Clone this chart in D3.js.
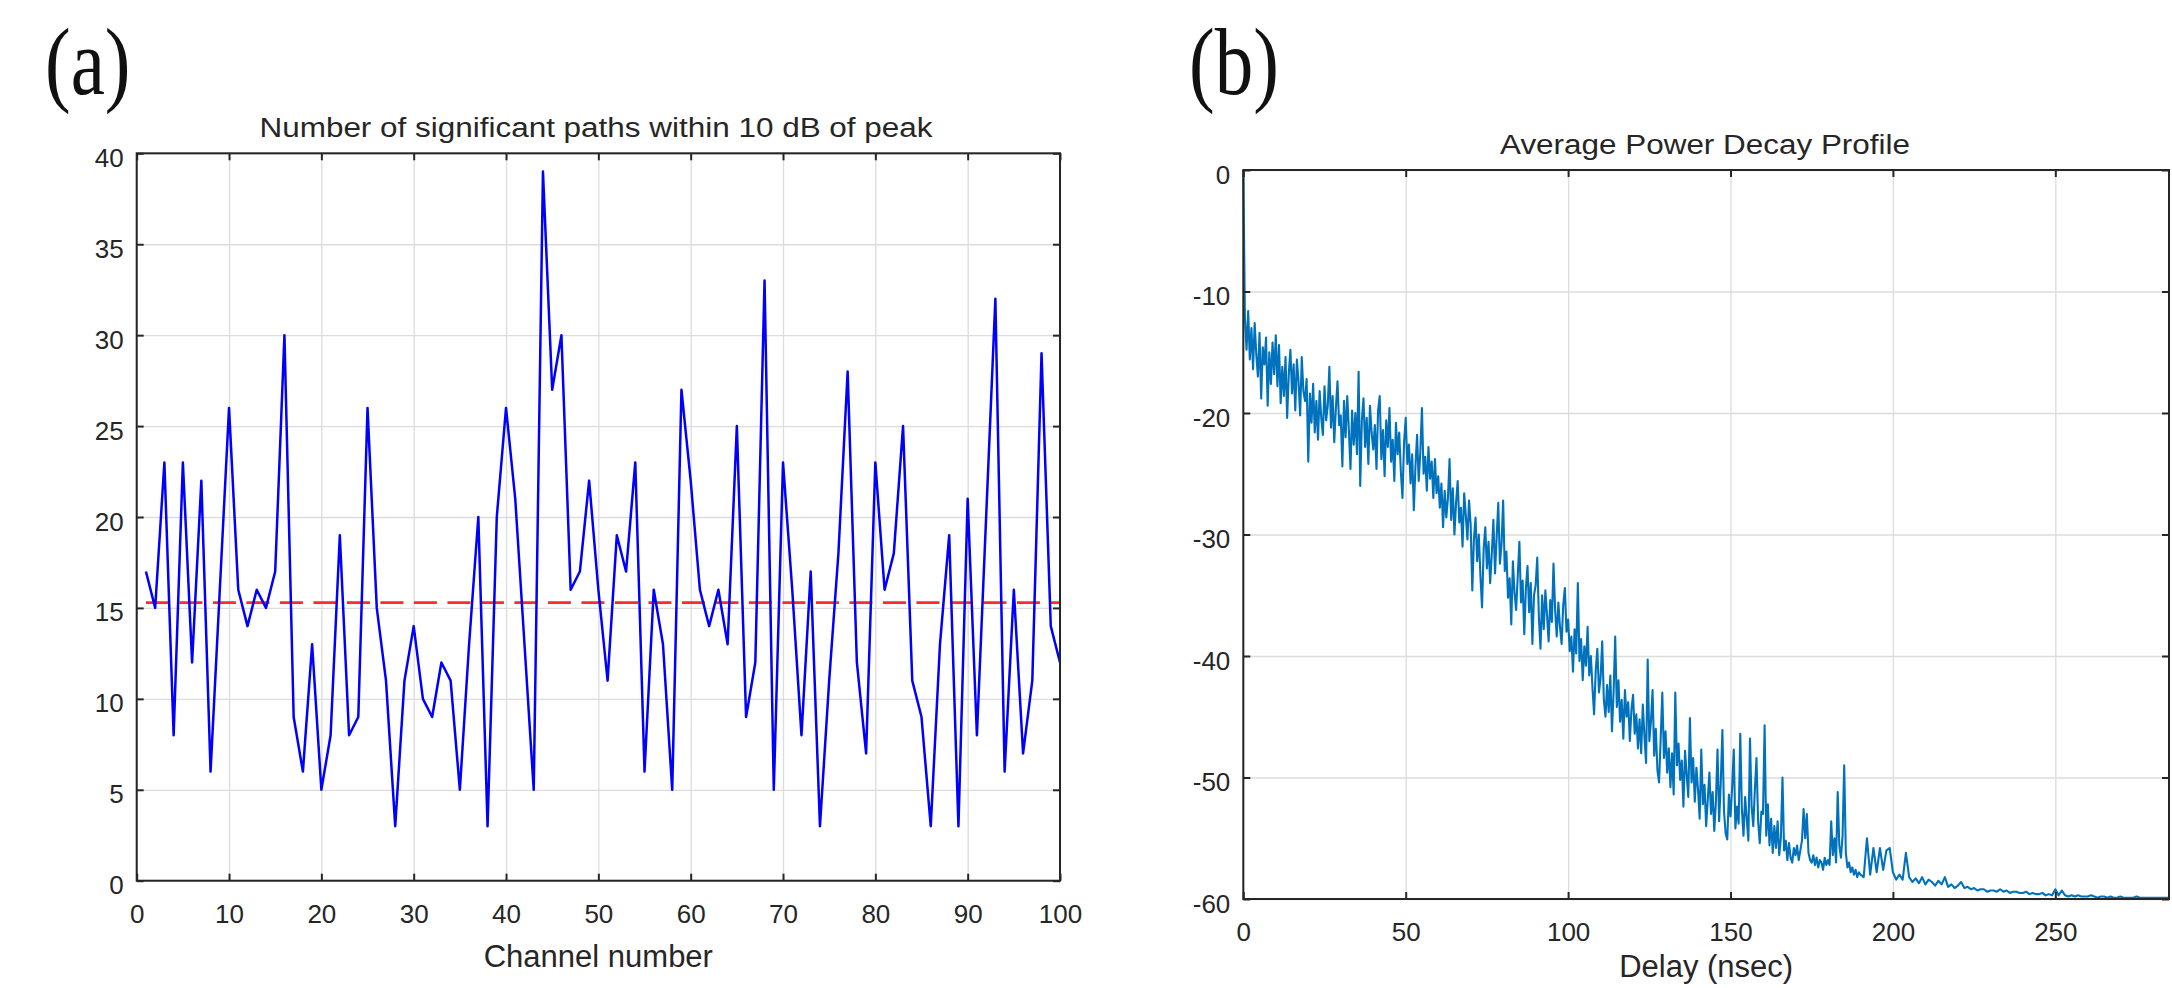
<html>
<head>
<style>
  body { margin: 0; background: #fff; }
  svg text { font-family: "Liberation Sans", Arial, sans-serif; fill: #262626; }
  .panel-label { font-family: "Liberation Serif", "Times New Roman", serif; fill: #111; }
</style>
<script src="https://d3js.org/d3.v7.min.js"></script>
</head>
<body>
<svg width="2172" height="988"></svg>
<script>
// (a) number of significant paths per channel
var channels = d3.range(1, 101);
var paths = [17, 15, 23, 8, 23, 12, 22, 6, 16, 26,
             16, 14, 16, 15, 17, 30, 9, 6, 13, 5,
             8, 19, 8, 9, 26, 15, 11, 3, 11, 14,
             10, 9, 12, 11, 5, 13, 20, 3, 20, 26,
             21, 13, 5, 39, 27, 30, 16, 17, 22, 16,
             11, 19, 17, 23, 6, 16, 13, 5, 27, 22,
             16, 14, 16, 13, 25, 9, 12, 33, 5, 23,
             16, 8, 17, 3, 11, 18, 28, 12, 7, 23,
             16, 18, 25, 11, 9, 3, 13, 19, 3, 21,
             8, 20, 32, 6, 16, 7, 11, 29, 14, 12];
var meanPaths = 15.29;
var pathTicksX = [0, 10, 20, 30, 40, 50, 60, 70, 80, 90, 100];
var pathTicksY = [0, 5, 10, 15, 20, 25, 30, 35, 40];

// (b) average power decay profile, dB
// 0 .. 190 ns every 0.5 ns
var powerFine = [
  0, -12.2, -14.8, -11.6, -15.6, -13.0, -16.4, -12.6, -15.2, -17.0, -13.4, -18.8, -14.6, -16.0, -13.8, -19.4, -15.0, -17.6, -14.2, -16.8,
  -13.6, -17.8, -14.4, -19.2, -16.2, -18.6, -15.4, -20.4, -16.8, -14.8, -18.4, -16.0, -19.8, -15.6, -17.4, -20.2, -15.4, -18.2, -19.0, -17.2,
  -24.0, -18.4, -20.8, -17.6, -21.6, -19.0, -22.2, -18.2, -20.4, -21.8, -17.8, -20.6, -19.4, -16.2, -21.2, -18.6, -22.4, -19.6, -17.4, -21.0,
  -20.2, -24.4, -19.0, -22.0, -18.6, -21.4, -24.6, -19.8, -22.6, -20.0, -23.4, -16.6, -26.0, -20.6, -18.8, -22.8, -20.4, -24.2, -19.4, -21.6,
  -23.0, -21.0, -24.6, -19.8, -18.6, -23.8, -21.4, -25.2, -20.6, -22.8, -19.6, -24.0, -22.2, -25.6, -20.8, -23.4, -21.6, -24.8, -27.0, -22.4,
  -20.4, -24.2, -22.6, -25.8, -23.4, -28.0, -24.4, -21.8, -25.6, -23.2, -19.6, -25.0, -23.6, -26.4, -22.8, -25.4, -24.0, -27.0, -23.8, -26.6,
  -25.2, -27.8, -25.8, -29.4, -26.4, -28.6, -27.0, -23.8, -28.8, -26.2, -30.0, -27.4, -25.6, -29.0, -27.8, -31.0, -26.6, -28.4, -30.4, -27.2,
  -29.2, -34.6, -30.4, -28.6, -32.2, -30.0, -33.4, -36.0, -31.2, -29.4, -32.8, -30.6, -34.0, -31.6, -28.8, -33.2, -30.2, -27.4, -32.4, -30.8,
  -27.2, -33.0, -31.4, -35.2, -33.6, -37.4, -32.2, -34.8, -36.2, -33.4, -30.6, -35.6, -33.8, -38.2, -34.4, -32.6, -36.4, -34.0, -39.0, -35.0,
  -34.2, -31.9, -36.8, -39.4, -35.0, -37.8, -34.6, -36.6, -38.8, -35.4, -37.2, -32.4, -36.2, -38.4, -35.6, -37.6, -39.0, -35.8, -34.4, -38.0,
  -37.0, -39.6, -38.4, -41.3, -37.8, -39.8, -34.0, -40.4, -38.6, -42.0, -39.2, -40.8, -37.6, -41.6, -40.0, -42.6, -44.8, -41.2, -39.4, -43.0,
  -41.8, -38.8, -43.6, -45.0, -42.4, -44.6, -41.6, -46.2, -43.0, -38.4, -44.2, -42.0, -45.4, -43.6, -46.8, -42.8, -45.0, -43.8, -47.0, -44.4,
  -43.2, -46.4, -44.8, -47.6, -45.2, -48.0, -44.0, -46.6, -48.8, -40.3, -47.0, -45.4, -42.8, -48.2, -46.0, -49.4, -50.4, -46.8, -43.0, -48.4,
  -46.2, -49.6, -47.6, -50.8, -48.0, -51.4, -43.0, -49.0, -47.2, -50.2, -48.6, -52.4, -47.8, -49.8, -51.6, -45.1, -50.4, -48.4, -52.0, -49.2,
  -51.0, -53.4, -47.7, -52.2, -50.6, -54.0, -51.8, -49.6, -53.0, -51.2, -54.4, -52.0, -47.7, -53.6, -50.4, -46.1, -52.8, -54.6, -55.1, -51.4,
  -53.2, -50.8, -47.7, -54.2, -52.4, -53.8, -46.4, -52.6, -54.8, -51.6, -53.4, -55.2, -46.8, -52.4, -54.0, -51.0, -48.4, -53.6, -55.4, -52.8,
  -53.0, -45.7, -54.8, -52.2, -55.6, -53.4, -56.2, -54.0, -55.8, -53.6, -56.4, -55.0, -50.0, -56.0, -55.2, -56.8, -55.4, -56.6, -57.0, -55.8,
  -56.4, -55.6, -56.8, -56.0, -55.2, -52.6, -55.0, -53.0, -56.2, -56.8, -57.0, -56.4, -57.2, -56.6, -57.4, -56.8, -57.0, -57.6, -56.6, -57.2,
  -56.8, -57.2, -53.6, -56.4, -55.0, -57.0, -51.2, -55.6, -56.6, -54.8, -49.0, -56.2, -57.4, -57.0, -57.8, -57.4, -58.0, -57.6, -58.2, -57.8,
  -58.0];
// 191 .. 285 ns every 1 ns
var powerTail = [
  -58.2, -55.0, -58.0, -55.8, -57.8, -55.8, -57.6, -56.0, -55.8, -57.8,
  -58.4, -58.0, -58.4, -56.2, -58.2, -58.6, -58.3, -58.7, -58.2, -58.8,
  -58.4, -58.6, -58.9, -58.5, -58.8, -58.2, -59.0, -58.8, -59.1, -58.9,
  -58.6, -59.1, -59.0, -59.2, -59.1, -59.3, -59.2, -59.2, -59.4, -59.3,
  -59.3, -59.4, -59.2, -59.4, -59.3, -59.5, -59.4, -59.4, -59.5, -59.5,
  -59.4, -59.6, -59.5, -59.6, -59.6, -59.5, -59.7, -59.6, -59.7, -59.2,
  -59.7, -59.3, -59.7, -59.8, -59.7, -59.8, -59.7, -59.8, -59.8, -59.8,
  -59.7, -59.8, -59.9, -59.8, -59.8, -59.9, -59.8, -59.9, -59.9, -59.8,
  -59.9, -59.9, -59.9, -59.9, -59.8, -59.9, -59.9, -59.9, -59.9, -59.9,
  -59.9, -59.9, -59.9, -59.9, -59.9];
var delayTicksX = [0, 50, 100, 150, 200, 250];
var powerTicksY = [-60, -50, -40, -30, -20, -10, 0];

var svg = d3.select("svg");
var tickFont = 26;

function makePanel(o) {
  var x = d3.scaleLinear().domain(o.xdom).range([o.left, o.right]);
  var y = d3.scaleLinear().domain(o.ydom).range([o.bottom, o.top]);
  var h = o.bottom - o.top, w = o.right - o.left;
  var g = svg.append("g");

  // grid
  g.append("g")
    .attr("transform", "translate(0," + o.bottom + ")")
    .call(d3.axisBottom(x).tickValues(o.xticks).tickSize(-h).tickFormat(""))
    .call(function(s) { s.select(".domain").remove(); });
  g.append("g")
    .attr("transform", "translate(" + o.left + ",0)")
    .call(d3.axisLeft(y).tickValues(o.yticks).tickSize(-w).tickFormat(""))
    .call(function(s) { s.select(".domain").remove(); });
  g.selectAll("line").attr("stroke", "#dcdcdc").attr("stroke-width", 1.3);

  var plot = g.append("g");

  // box
  g.append("rect")
    .attr("x", o.left).attr("y", o.top)
    .attr("width", w).attr("height", h)
    .attr("fill", "none").attr("stroke", "#262626").attr("stroke-width", 2);

  // ticks, inward on all sides
  var bx = g.append("g").attr("transform", "translate(0," + o.bottom + ")")
    .call(d3.axisBottom(x).tickValues(o.xticks).tickSizeInner(-7).tickSizeOuter(0).tickPadding(23.5));
  var tx = g.append("g").attr("transform", "translate(0," + o.top + ")")
    .call(d3.axisTop(x).tickValues(o.xticks).tickSizeInner(-7).tickSizeOuter(0).tickFormat(""));
  var ly = g.append("g").attr("transform", "translate(" + o.left + ",0)")
    .call(d3.axisLeft(y).tickValues(o.yticks).tickSizeInner(-7).tickSizeOuter(0).tickPadding(13));
  var ry = g.append("g").attr("transform", "translate(" + o.right + ",0)")
    .call(d3.axisRight(y).tickValues(o.yticks).tickSizeInner(-7).tickSizeOuter(0).tickFormat(""));
  [bx, tx, ly, ry].forEach(function(a) {
    a.select(".domain").remove();
    a.selectAll("line").attr("stroke", "#262626").attr("stroke-width", 2);
    a.attr("font-family", null).attr("font-size", tickFont);
    a.selectAll("text").attr("fill", "#262626");
  });
  ly.selectAll("text").attr("dy", "0.5em");
  if (o.yfmt) ly.selectAll("text").text(o.yfmt);

  g.append("text")
    .attr("x", o.titleX).attr("y", o.top - 16)
    .attr("text-anchor", "middle")
    .attr("font-size", 27)
    .attr("textLength", o.titleW).attr("lengthAdjust", "spacingAndGlyphs")
    .text(o.title);

  g.append("text")
    .attr("x", (o.left + o.right) / 2).attr("y", o.bottom + o.xlabelGap)
    .attr("text-anchor", "middle")
    .attr("font-size", 31)
    .text(o.xlabel);

  return { x: x, y: y, plot: plot };
}

// panel (a)
var pa = makePanel({
  left: 136.7, right: 1060, top: 153.3, bottom: 880.7,
  xdom: [0, 100], ydom: [0, 40],
  xticks: pathTicksX, yticks: pathTicksY,
  title: "Number of significant paths within 10 dB of peak", titleX: 596, titleW: 673,
  xlabel: "Channel number", xlabelGap: 86
});

pa.plot.append("line")
  .attr("x1", pa.x(1)).attr("x2", pa.x(100))
  .attr("y1", pa.y(meanPaths)).attr("y2", pa.y(meanPaths))
  .attr("stroke", "#ff2a2a").attr("stroke-width", 2.6)
  .attr("stroke-dasharray", "23,10.5");

pa.plot.append("path")
  .datum(channels.map(function(c, i) { return [c, paths[i]]; }))
  .attr("fill", "none")
  .attr("stroke", "#0000ff")
  .attr("stroke-width", 2.5)
  .attr("stroke-linejoin", "round")
  .attr("d", d3.line().x(function(d) { return pa.x(d[0]); }).y(function(d) { return pa.y(d[1]); }));

// panel (b)
var pb = makePanel({
  left: 1243.3, right: 2169, top: 170, bottom: 899,
  xdom: [0, 285], ydom: [-60, 0],
  xticks: delayTicksX, yticks: powerTicksY,
  title: "Average Power Decay Profile", titleX: 1705, titleW: 410,
  xlabel: "Delay (nsec)", xlabelGap: 78,
  yfmt: function(d) { return d; }
});

var profile = powerFine.map(function(p, i) { return [i * 0.5, p]; })
  .concat(powerTail.map(function(p, i) { return [191 + i, p]; }));

pb.plot.append("path")
  .datum(profile)
  .attr("fill", "none")
  .attr("stroke", "#0072bd")
  .attr("stroke-width", 2.1)
  .attr("stroke-linejoin", "round")
  .attr("d", d3.line().x(function(d) { return pb.x(d[0]); }).y(function(d) { return pb.y(d[1]); }));

// panel letters (taller than wide, as in the figure)
svg.append("text").attr("class", "panel-label")
  .attr("transform", "translate(45,94) scale(1,1.23)")
  .attr("font-size", 77).text("(a)");
svg.append("text").attr("class", "panel-label")
  .attr("transform", "translate(1189,94) scale(1,1.23)")
  .attr("font-size", 77).text("(b)");
</script>
</body>
</html>
